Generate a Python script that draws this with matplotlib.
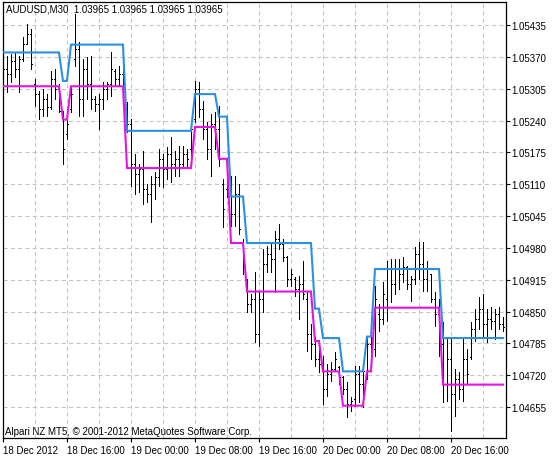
import matplotlib

matplotlib.use("Agg")

import matplotlib.pyplot as plt
import numpy as np

# ---- chart texts -------------------------------------------------------------
HEADER = "AUDUSD,M30  1.03965 1.03965 1.03965 1.03965"
COPYRIGHT = "Alpari NZ MT5, \u00a9 2001-2012 MetaQuotes Software Corp."

time_labels = ["18 Dec 2012", "18 Dec 16:00", "19 Dec 00:00", "19 Dec 08:00",
               "19 Dec 16:00", "20 Dec 00:00", "20 Dec 08:00", "20 Dec 16:00"]
time_label_bars = [0, 16, 32, 48, 64, 80, 96, 112]

price_ticks = [1.04655, 1.04720, 1.04785, 1.04850, 1.04915, 1.04980, 1.05045,
               1.05110, 1.05175, 1.05240, 1.05305, 1.05370, 1.05435]

# ---- M30 bars ---------------------------------------------------------------
open_ = [
    1.05325, 1.05345, 1.05335, 1.05361, 1.05345, 1.05366, 1.05396, 1.05417, 1.05315, 1.05294,
    1.05264, 1.05284, 1.05268, 1.05325, 1.05304, 1.05253, 1.05213, 1.05264, 1.05366, 1.05386,
    1.05284, 1.05345, 1.05315, 1.05284, 1.05274, 1.05284, 1.05304, 1.05315, 1.05341, 1.05325,
    1.05335, 1.05274, 1.05233, 1.05151, 1.05131, 1.05141, 1.05100, 1.05090, 1.05111, 1.05125,
    1.05162, 1.05141, 1.05172, 1.05151, 1.05162, 1.05151, 1.05172, 1.05182, 1.05243, 1.05304,
    1.05264, 1.05223, 1.05182, 1.05233, 1.05223, 1.05111, 1.05100, 1.05121, 1.05049, 1.05090,
    1.04988, 1.04907, 1.04866, 1.04876, 1.04805, 1.04876, 1.04947, 1.04968, 1.04958, 1.04998,
    1.04988, 1.04962, 1.04917, 1.04917, 1.04896, 1.04907, 1.04876, 1.04805, 1.04784, 1.04754,
    1.04743, 1.04692, 1.04723, 1.04733, 1.04737, 1.04717, 1.04692, 1.04662, 1.04672, 1.04723,
    1.04703, 1.04729, 1.04784, 1.04774, 1.04845, 1.04835, 1.04876, 1.04937, 1.04907, 1.04937,
    1.04927, 1.04941, 1.04907, 1.04917, 1.04968, 1.04947, 1.04917, 1.04927, 1.04876, 1.04845,
    1.04784, 1.04703, 1.04754, 1.04682, 1.04713, 1.04692, 1.04754, 1.04758, 1.04815, 1.04835,
    1.04856, 1.04825, 1.04835, 1.04831, 1.04845, 1.04825,
]
high = [
    1.05361, 1.05372, 1.05376, 1.05380, 1.05372, 1.05410, 1.05437, 1.05427, 1.05325, 1.05300,
    1.05304, 1.05294, 1.05341, 1.05345, 1.05315, 1.05259, 1.05243, 1.05310, 1.05457, 1.05400,
    1.05366, 1.05370, 1.05372, 1.05290, 1.05294, 1.05319, 1.05319, 1.05380, 1.05345, 1.05351,
    1.05355, 1.05278, 1.05243, 1.05172, 1.05151, 1.05178, 1.05111, 1.05127, 1.05135, 1.05182,
    1.05172, 1.05186, 1.05206, 1.05178, 1.05188, 1.05188, 1.05182, 1.05233, 1.05321, 1.05319,
    1.05280, 1.05237, 1.05253, 1.05257, 1.05270, 1.05121, 1.05151, 1.05127, 1.05127, 1.05111,
    1.04998, 1.04917, 1.04886, 1.04931, 1.04890, 1.04978, 1.04984, 1.04988, 1.05015, 1.05029,
    1.04998, 1.04964, 1.04937, 1.04921, 1.04923, 1.04953, 1.04890, 1.04825, 1.04798, 1.04774,
    1.04760, 1.04743, 1.04747, 1.04768, 1.04739, 1.04719, 1.04707, 1.04676, 1.04739, 1.04739,
    1.04733, 1.04798, 1.04798, 1.04902, 1.04866, 1.04911, 1.04953, 1.04958, 1.04958, 1.04958,
    1.04962, 1.04943, 1.04923, 1.04982, 1.04992, 1.04992, 1.04953, 1.04927, 1.04890, 1.04876,
    1.04829, 1.04794, 1.04794, 1.04733, 1.04727, 1.04794, 1.04774, 1.04829, 1.04856, 1.04880,
    1.04886, 1.04856, 1.04860, 1.04856, 1.04860, 1.04839,
]
low = [
    1.05300, 1.05298, 1.05319, 1.05329, 1.05298, 1.05361, 1.05396, 1.05345, 1.05270, 1.05243,
    1.05249, 1.05249, 1.05264, 1.05284, 1.05257, 1.05151, 1.05202, 1.05257, 1.05351, 1.05249,
    1.05249, 1.05284, 1.05264, 1.05259, 1.05223, 1.05264, 1.05284, 1.05290, 1.05310, 1.05310,
    1.05304, 1.05217, 1.05106, 1.05090, 1.05094, 1.05070, 1.05074, 1.05033, 1.05080, 1.05106,
    1.05104, 1.05121, 1.05115, 1.05127, 1.05127, 1.05147, 1.05145, 1.05168, 1.05237, 1.05247,
    1.05202, 1.05162, 1.05127, 1.05182, 1.05147, 1.05023, 1.05084, 1.05025, 1.05025, 1.05009,
    1.04927, 1.04849, 1.04849, 1.04788, 1.04780, 1.04849, 1.04931, 1.04931, 1.04890, 1.04978,
    1.04953, 1.04902, 1.04902, 1.04882, 1.04835, 1.04876, 1.04770, 1.04754, 1.04739, 1.04727,
    1.04662, 1.04678, 1.04709, 1.04729, 1.04703, 1.04682, 1.04635, 1.04648, 1.04658, 1.04666,
    1.04656, 1.04713, 1.04739, 1.04760, 1.04811, 1.04825, 1.04831, 1.04870, 1.04886, 1.04896,
    1.04911, 1.04896, 1.04872, 1.04907, 1.04917, 1.04892, 1.04892, 1.04870, 1.04821, 1.04760,
    1.04666, 1.04668, 1.04607, 1.04637, 1.04672, 1.04668, 1.04703, 1.04754, 1.04790, 1.04815,
    1.04800, 1.04788, 1.04815, 1.04794, 1.04815, 1.04811,
]
close = [
    1.05345, 1.05335, 1.05361, 1.05345, 1.05366, 1.05396, 1.05417, 1.05355, 1.05294, 1.05264,
    1.05284, 1.05268, 1.05325, 1.05304, 1.05259, 1.05182, 1.05233, 1.05294, 1.05386, 1.05284,
    1.05345, 1.05315, 1.05284, 1.05274, 1.05284, 1.05304, 1.05315, 1.05345, 1.05325, 1.05335,
    1.05308, 1.05233, 1.05151, 1.05131, 1.05141, 1.05100, 1.05090, 1.05111, 1.05125, 1.05162,
    1.05141, 1.05172, 1.05151, 1.05162, 1.05151, 1.05172, 1.05162, 1.05223, 1.05304, 1.05264,
    1.05223, 1.05182, 1.05233, 1.05223, 1.05162, 1.05060, 1.05131, 1.05049, 1.05090, 1.05019,
    1.04947, 1.04866, 1.04876, 1.04805, 1.04876, 1.04947, 1.04968, 1.04958, 1.04998, 1.04988,
    1.04962, 1.04917, 1.04927, 1.04896, 1.04907, 1.04886, 1.04805, 1.04784, 1.04754, 1.04743,
    1.04692, 1.04723, 1.04733, 1.04754, 1.04717, 1.04692, 1.04662, 1.04668, 1.04723, 1.04703,
    1.04729, 1.04784, 1.04774, 1.04876, 1.04835, 1.04886, 1.04937, 1.04907, 1.04937, 1.04927,
    1.04941, 1.04907, 1.04917, 1.04968, 1.04947, 1.04917, 1.04937, 1.04876, 1.04845, 1.04784,
    1.04703, 1.04754, 1.04682, 1.04713, 1.04692, 1.04754, 1.04723, 1.04815, 1.04835, 1.04856,
    1.04825, 1.04835, 1.04831, 1.04845, 1.04825, 1.04819,
]

# ---- indicator buffers (upper = blue, lower = magenta) ------------------------
upper = [
    1.05379, 1.05379, 1.05379, 1.05379, 1.05379, 1.05379, 1.05379, 1.05379, 1.05379, 1.05379,
    1.05379, 1.05379, 1.05379, 1.05379, 1.05379, 1.05321, 1.05321, 1.05395, 1.05395, 1.05395,
    1.05395, 1.05395, 1.05395, 1.05395, 1.05395, 1.05395, 1.05395, 1.05395, 1.05395, 1.05395,
    1.05395, 1.05219, 1.05219, 1.05219, 1.05219, 1.05219, 1.05219, 1.05219, 1.05219, 1.05219,
    1.05219, 1.05219, 1.05219, 1.05219, 1.05219, 1.05219, 1.05219, 1.05219, 1.05294, 1.05294,
    1.05294, 1.05294, 1.05294, 1.05294, 1.05248, 1.05248, 1.05248, 1.05085, 1.05085, 1.05085,
    1.05085, 1.04990, 1.04990, 1.04990, 1.04990, 1.04990, 1.04990, 1.04990, 1.04990, 1.04990,
    1.04990, 1.04990, 1.04990, 1.04990, 1.04990, 1.04990, 1.04990, 1.04990, 1.04856, 1.04856,
    1.04796, 1.04796, 1.04796, 1.04796, 1.04796, 1.04728, 1.04728, 1.04728, 1.04728, 1.04728,
    1.04728, 1.04799, 1.04799, 1.04937, 1.04937, 1.04937, 1.04937, 1.04937, 1.04937, 1.04937,
    1.04937, 1.04937, 1.04937, 1.04937, 1.04937, 1.04937, 1.04937, 1.04937, 1.04937, 1.04937,
    1.04796, 1.04796, 1.04796, 1.04796, 1.04796, 1.04796, 1.04796, 1.04796, 1.04796, 1.04796,
    1.04796, 1.04796, 1.04796, 1.04796, 1.04796, 1.04796,
]
lower = [
    1.05310, 1.05310, 1.05310, 1.05310, 1.05310, 1.05310, 1.05310, 1.05310, 1.05310, 1.05310,
    1.05310, 1.05310, 1.05310, 1.05310, 1.05310, 1.05242, 1.05242, 1.05310, 1.05310, 1.05310,
    1.05310, 1.05310, 1.05310, 1.05310, 1.05310, 1.05310, 1.05310, 1.05310, 1.05310, 1.05310,
    1.05310, 1.05143, 1.05143, 1.05143, 1.05143, 1.05143, 1.05143, 1.05143, 1.05143, 1.05143,
    1.05143, 1.05143, 1.05143, 1.05143, 1.05143, 1.05143, 1.05143, 1.05143, 1.05227, 1.05227,
    1.05227, 1.05227, 1.05227, 1.05227, 1.05162, 1.05162, 1.05162, 1.04990, 1.04990, 1.04990,
    1.04990, 1.04891, 1.04891, 1.04891, 1.04891, 1.04891, 1.04891, 1.04891, 1.04891, 1.04891,
    1.04891, 1.04891, 1.04891, 1.04891, 1.04891, 1.04891, 1.04891, 1.04891, 1.04790, 1.04790,
    1.04728, 1.04728, 1.04728, 1.04728, 1.04728, 1.04658, 1.04658, 1.04658, 1.04658, 1.04658,
    1.04658, 1.04728, 1.04728, 1.04858, 1.04858, 1.04858, 1.04858, 1.04858, 1.04858, 1.04858,
    1.04858, 1.04858, 1.04858, 1.04858, 1.04858, 1.04858, 1.04858, 1.04858, 1.04858, 1.04858,
    1.04701, 1.04701, 1.04701, 1.04701, 1.04701, 1.04701, 1.04701, 1.04701, 1.04701, 1.04701,
    1.04701, 1.04701, 1.04701, 1.04701, 1.04701, 1.04701,
]

W, H = 559, 460
FONT = "Liberation Sans"


def main() -> None:
    plt.rcParams.update({"font.family": FONT, "font.size": 7})
    fig = plt.figure(figsize=(W / 100, H / 100), dpi=100, facecolor="white")
    # plot area in pixel terms: x 2.5..506, y 3..439
    ax = fig.add_axes([2.5 / W, (H - 439) / H, (506 - 2.5) / W, (439 - 3) / H])

    bars = np.arange(len(close))

    # OHLC bars, crisp 1px like the terminal draws them
    bar_kw = dict(color="black", lw=0.55, zorder=3, antialiased=False)
    ax.vlines(bars, low, high, **bar_kw)
    ax.hlines(open_, bars - 0.3, bars, **bar_kw)
    ax.hlines(close, bars, bars + 0.3, **bar_kw)

    # indicator lines
    ax.plot(bars, upper, color="#2c8fe2", lw=1.5, zorder=4, solid_joinstyle="miter")
    ax.plot(bars, lower, color="#e414e0", lw=1.5, zorder=4, solid_joinstyle="miter")

    ax.set_xlim(-0.12, 125.75)
    ax.set_ylim(1.04592, 1.05482)

    # axes / ticks
    ax.yaxis.tick_right()
    ax.set_yticks(price_ticks)
    ax.set_yticklabels([f"{p:.5f}" for p in price_ticks])
    ax.set_xticks(time_label_bars)
    ax.set_xticklabels(time_labels, ha="left")
    ax.set_xticks(np.arange(8, 126, 16), minor=True)
    ax.tick_params(axis="both", which="major", direction="out", length=3,
                   width=0.8, color="black", labelsize=7, pad=1)
    ax.tick_params(axis="x", which="major", pad=2)
    ax.tick_params(axis="x", which="minor", length=0)
    for lbl in ax.get_xticklabels():
        lbl.set_horizontalalignment("left")

    grid_kw = dict(color="#c4c4c4", lw=0.75, ls=(0, (4, 3)))
    ax.grid(True, axis="y", which="major", **grid_kw)
    ax.grid(True, axis="x", which="both", **grid_kw)
    ax.set_axisbelow(True)

    for side in ("left", "right", "top", "bottom"):
        ax.spines[side].set_color("black")
        ax.spines[side].set_linewidth(0.9)

    fig.text(6 / W, 1 - 9 / H, HEADER, ha="left", va="center", fontsize=7)
    fig.text(5 / W, 1 - 432 / H, COPYRIGHT, ha="left", va="center", fontsize=7)

    fig.savefig("out.png", dpi=100, facecolor="white")


if __name__ == "__main__":
    main()
